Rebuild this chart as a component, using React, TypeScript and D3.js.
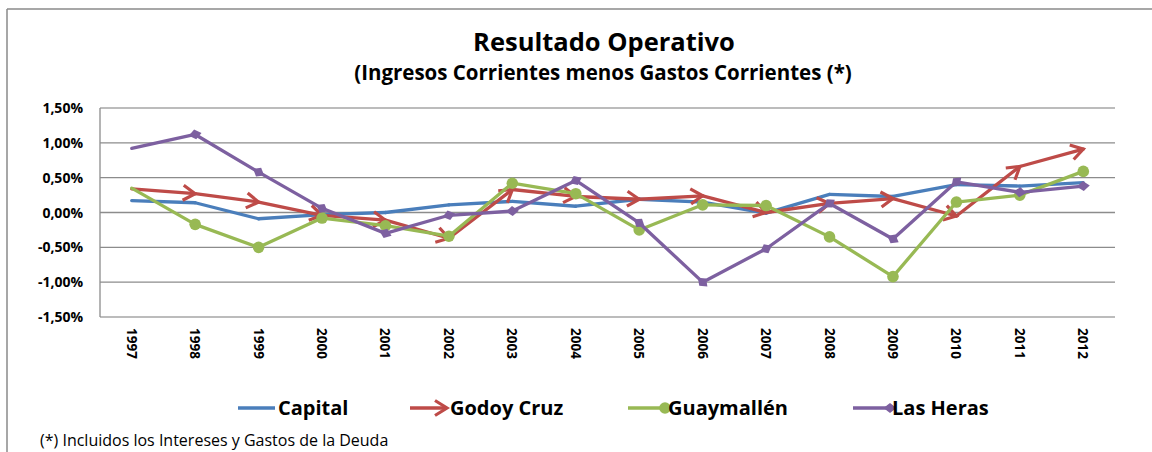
import React from "react";
import * as d3 from "d3";

const years = ["1997", "1998", "1999", "2000", "2001", "2002", "2003", "2004", "2005", "2006", "2007", "2008", "2009", "2010", "2011", "2012"];
const capital = [0.17, 0.14, -0.09, -0.03, 0.0, 0.11, 0.16, 0.09, 0.19, 0.15, -0.01, 0.26, 0.23, 0.4, 0.38, 0.43];
const godoyCruz = [0.34, 0.27, 0.15, -0.04, -0.11, -0.37, 0.33, 0.23, 0.19, 0.24, 0.0, 0.13, 0.2, -0.05, 0.66, 0.91];
const guaymallen = [0.35, -0.17, -0.5, -0.08, -0.19, -0.34, 0.42, 0.27, -0.25, 0.11, 0.1, -0.35, -0.92, 0.15, 0.25, 0.59];
const lasHeras = [0.92, 1.12, 0.58, 0.06, -0.3, -0.04, 0.02, 0.46, -0.15, -1.0, -0.52, 0.13, -0.38, 0.44, 0.29, 0.38];
const yTicks = [1.5, 1, 0.5, 0, -0.5, -1, -1.5];

const series = [
  { name: "Capital", values: capital, color: "#4A7EBB", marker: "none" },
  { name: "Godoy Cruz", values: godoyCruz, color: "#BE4B48", marker: "arrow" },
  { name: "Guaymallén", values: guaymallen, color: "#98B954", marker: "circle" },
  { name: "Las Heras", values: lasHeras, color: "#7D60A0", marker: "diamond" },
];

const W = 1152;
const H = 452;
const font = "'Open Sans', sans-serif";

const locale = d3.formatLocale({ decimal: ",", thousands: ".", grouping: [3], currency: ["$", ""], minus: "-" });
const fmt = locale.format(".2f");

function EndMarker({ type, x, y, angle, color }: { type: string; x: number; y: number; angle: number; color: string }) {
  const t = `translate(${x},${y}) rotate(${angle})`;
  if (type === "arrow")
    return <path d="M-12,-7.5 L0,0 L-12,7.5" transform={t} fill="none" stroke={color} strokeWidth={3.2} strokeLinejoin="miter" />;
  if (type === "circle") return <circle cx={x} cy={y} r={5.8} fill={color} />;
  if (type === "diamond") return <path d="M-6.5,0 L0,-5 L6.5,0 L0,5 Z" transform={t} fill={color} />;
  return null;
}

export default function App() {
  const left = 100, right = 1115, top = 108, bottom = 317;
  const x = d3.scaleBand().domain(years).range([left, right]);
  const cx = (d: string) => (x(d) as number) + x.bandwidth() / 2;
  const y = d3.scaleLinear().domain([-1.5, 1.5]).range([bottom, top]);

  const legendItems = [
    { lx: 238, tx: 278 },
    { lx: 410, tx: 450 },
    { lx: 628, tx: 668 },
    { lx: 853, tx: 892 },
  ];

  return (
    <svg width={W} height={H} style={{ position: "absolute", left: 0, top: 0, background: "#fff" }} fontFamily={font}>
      <rect x={0} y={0} width={W} height={H} fill="#fff" />
      {/* outer frame */}
      <line x1={7} x2={W} y1={9} y2={9} stroke="#8a8a8a" strokeWidth={1.5} />
      <line x1={7} x2={7} y1={9} y2={H} stroke="#8a8a8a" strokeWidth={1.5} />

      <text x={604} y={51} textAnchor="middle" fontSize={25.5} fontWeight="bold">Resultado Operativo</text>
      <text x={603} y={80} textAnchor="middle" fontSize={20.5} fontWeight="bold">(Ingresos Corrientes menos Gastos Corrientes (*)</text>

      {/* grid + y axis */}
      {yTicks.map((t) => (
        <g key={t}>
          <line x1={left} x2={right} y1={y(t)} y2={y(t)} stroke={t === 1.5 || t === -1.5 ? "#a6a6a6" : "#8c8c8c"} strokeWidth={1.3} />
          <text x={83} y={y(t) + 5} textAnchor="end" fontSize={14} fontWeight="bold">{fmt(t) + "%"}</text>
        </g>
      ))}
      <line x1={left} x2={left} y1={top} y2={bottom} stroke="#8c8c8c" strokeWidth={1.3} />

      {/* x labels */}
      {years.map((yr) => (
        <text key={yr} transform={`translate(${cx(yr) - 5},${328}) rotate(90)`} fontSize={13.5} fontWeight="bold">{yr}</text>
      ))}

      {/* series */}
      {series.map((s) => (
        <g key={s.name}>
          {s.values.slice(1).map((v, i) => {
            const x0 = cx(years[i]), y0 = y(s.values[i]);
            const x1 = cx(years[i + 1]), y1 = y(v);
            const ang = (Math.atan2(y1 - y0, x1 - x0) * 180) / Math.PI;
            return (
              <g key={i}>
                <line x1={x0} y1={y0} x2={x1} y2={y1} stroke={s.color} strokeWidth={3.3} strokeLinecap="round" />
                <EndMarker type={s.marker} x={x1} y={y1} angle={ang} color={s.color} />
              </g>
            );
          })}
        </g>
      ))}

      {/* legend */}
      {series.map((s, i) => (
        <g key={s.name}>
          <line x1={legendItems[i].lx} x2={legendItems[i].lx + 37} y1={408} y2={408} stroke={s.color} strokeWidth={3.3} />
          <EndMarker type={s.marker} x={legendItems[i].lx + 37} y={408} angle={0} color={s.color} />
          <text x={legendItems[i].tx} y={415} fontSize={20} fontWeight="bold">{s.name}</text>
        </g>
      ))}

      <text x={40} y={446} fontSize={16}>(*) Incluidos los Intereses y Gastos de la Deuda</text>
    </svg>
  );
}
